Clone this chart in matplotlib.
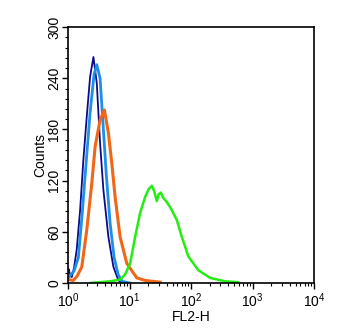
import numpy as np
import matplotlib.pyplot as plt
from matplotlib.ticker import MultipleLocator, LogLocator, NullFormatter

plt.rcParams['font.family'] = ['Liberation Sans', 'DejaVu Sans']

# FL2-H values and counts
navy_x = [1.0, 1.03, 1.08, 1.15, 1.25, 1.38, 1.57, 1.77, 2.01, 2.28, 2.58, 2.93,
          3.31, 3.75, 4.52, 5.45, 6.58, 8.0]
navy_y = [12, 16, 8, 7, 18, 39, 86, 144, 195, 242, 265, 234,
          164, 109, 54, 19, 3, 0]

blue_x = [1.0, 1.08, 1.25, 1.47, 1.69, 1.96, 2.28, 2.65, 2.93, 3.31, 3.71, 4.15,
          4.82, 5.60, 6.50, 7.55, 10.2]
blue_y = [6, 9, 14, 30, 80, 140, 200, 245, 256, 240, 185, 130,
          70, 30, 10, 2, 0]

orange_x = [1.0, 1.21, 1.40, 1.67, 2.01, 2.43, 2.75, 3.31, 3.89, 4.52, 5.14, 5.81,
            7.01, 9.0, 13.1, 17.9, 31.3]
orange_y = [4, 3, 8, 19, 62, 117, 160, 191, 203, 176, 140, 101,
            54, 23, 6, 3, 1]

green_x = [2.28, 3.31, 4.82, 7.0, 8.45, 10.2, 12.3, 14.8, 17.9, 20.4, 23.0, 25.0,
           27.7, 29.6, 32.2, 35.1, 39.2, 45.6, 58.5, 70.6, 90.4, 131, 204, 357, 581]
green_y = [0, 1, 2, 4, 10, 23, 54, 82, 101, 110, 114, 108,
           96, 104, 106, 100, 96, 89, 74, 54, 31, 15, 6, 2, 1]

fig = plt.figure(figsize=(3.51, 3.31), dpi=100)
ax = fig.add_axes([0.194, 0.145, 0.701, 0.773])

ax.plot(navy_x, navy_y, color='#0b0b8a', lw=1.3)
ax.plot(blue_x, blue_y, color='#1e8fe6', lw=2.0)
ax.plot(orange_x, orange_y, color='#f2661a', lw=2.2)
ax.plot(green_x, green_y, color='#22ee11', lw=1.8)

ax.set_xscale('log')
ax.set_xlim(1, 1e4)
ax.set_ylim(0, 300)

ax.yaxis.set_major_locator(MultipleLocator(60))
ax.yaxis.set_minor_locator(MultipleLocator(12))
ax.xaxis.set_major_locator(LogLocator(base=10))
ax.xaxis.set_minor_locator(LogLocator(base=10, subs=np.arange(2, 10)))
ax.xaxis.set_minor_formatter(NullFormatter())

ax.tick_params(which='major', length=4, width=1, labelsize=10, direction='out')
ax.tick_params(which='minor', length=2.5, width=0.8, direction='out')
ax.tick_params(axis='y', which='major', pad=1)
ax.tick_params(axis='x', which='major', pad=2)
for lab in ax.get_yticklabels():
    lab.set_rotation(90)
    lab.set_va('center')

for s in ax.spines.values():
    s.set_linewidth(1.2)

ax.set_xlabel('FL2-H', fontsize=10, labelpad=0)
ax.set_ylabel('Counts', fontsize=10, labelpad=0)

fig.savefig('out.png', dpi=100)
